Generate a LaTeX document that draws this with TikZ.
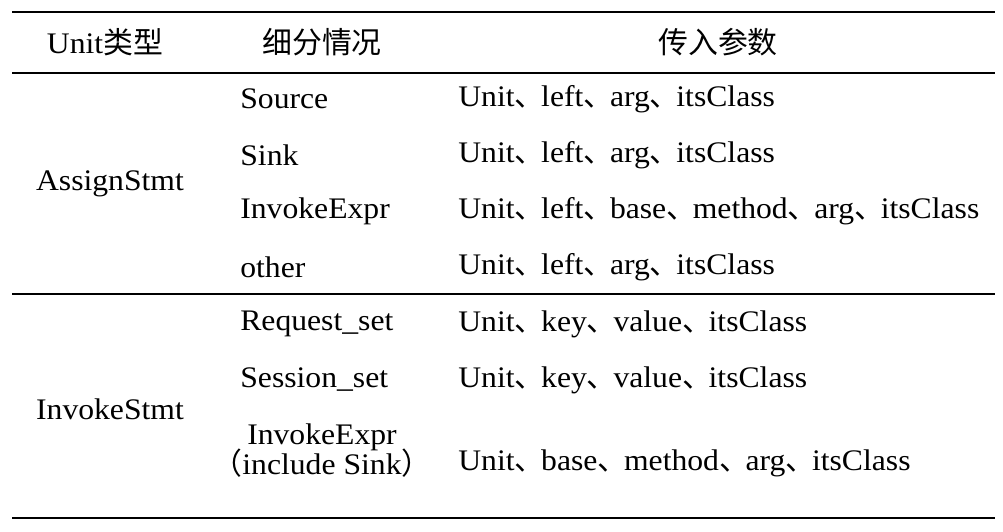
\documentclass[tikz,border=0pt]{standalone}
\usepackage{fontspec}
\setmainfont[FakeStretch=1.06]{Liberation Serif}
\newfontfamily\cjk{Noto Sans CJK SC}
\newcommand{\dun}{\makebox[0.89em][l]{\cjk 、}}
\tikzset{
    cell/.style={inner sep=0pt, font=\fontsize{17}{20}\selectfont},
    thickrule/.style={line width=1.6pt},
    thinrule/.style={line width=0.8pt}
}
\begin{document}
\begin{tikzpicture}[x=0.02cm, y=-0.02cm]
    \useasboundingbox (0,0) rectangle (1003,531);
    % rules
    \coordinate (tl) at (12,12);   \coordinate (tr) at (995,12);
    \coordinate (hl) at (12,73);   \coordinate (hr) at (995,73);
    \coordinate (ml) at (12,294);  \coordinate (mr) at (995,294);
    \coordinate (bl) at (12,518);  \coordinate (br) at (995,518);
    \draw[thickrule] (tl) -- (tr);
    \draw[thinrule] (hl) -- (hr);
    \draw[thinrule] (ml) -- (mr);
    \draw[thickrule] (bl) -- (br);
    % header
    \node[cell] (h1) at (105,42) {Unit{\cjk 类型}};
    \node[cell] (h2) at (322,42) {\cjk 细分情况};
    \node[cell] (h3) at (718,42) {\cjk 传入参数};
    % first group
    \node[cell] (assign) at (110,184) {AssignStmt};
    \node[cell, anchor=west] (src)   at (240,99)  {Source};
    \node[cell, anchor=west] (sink)  at (240,155) {Sink};
    \node[cell, anchor=west] (inv1)  at (240,211) {InvokeExpr};
    \node[cell, anchor=west] (oth)   at (240,267) {other};
    \node[cell, anchor=west] (p1) at (458,99)  {Unit\dun left\dun arg\dun itsClass};
    \node[cell, anchor=west] (p2) at (458,155) {Unit\dun left\dun arg\dun itsClass};
    \node[cell, anchor=west] (p3) at (458,211) {Unit\dun left\dun base\dun method\dun arg\dun itsClass};
    \node[cell, anchor=west] (p4) at (458,267) {Unit\dun left\dun arg\dun itsClass};
    % second group
    \node[cell] (invoke) at (110,409) {InvokeStmt};
    \node[cell, anchor=west] (req)  at (240,324) {Request\_set};
    \node[cell, anchor=west] (sess) at (240,380) {Session\_set};
    \node[cell] (inv2) at (322,437) {InvokeExpr};
    \node[cell] (incl) at (322,463) {{\cjk （}include Sink{\cjk ）}};
    \node[cell, anchor=west] (p5) at (458,324) {Unit\dun key\dun value\dun itsClass};
    \node[cell, anchor=west] (p6) at (458,380) {Unit\dun key\dun value\dun itsClass};
    \node[cell, anchor=west] (p7) at (458,463) {Unit\dun base\dun method\dun arg\dun itsClass};
\end{tikzpicture}
\end{document}
